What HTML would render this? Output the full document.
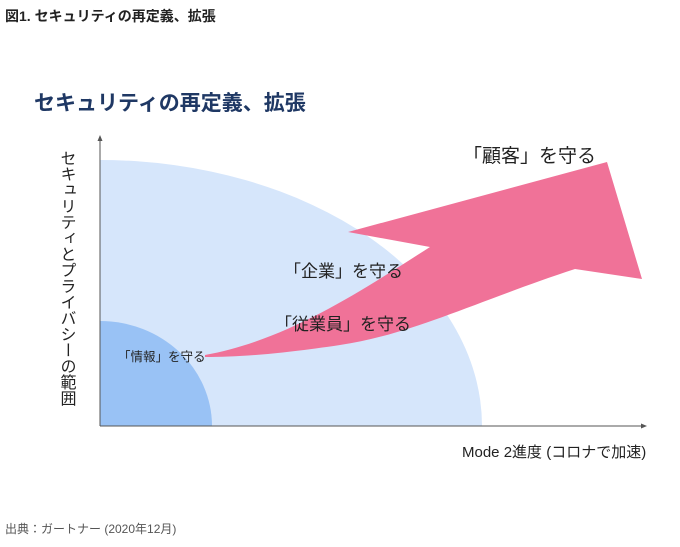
<!DOCTYPE html>
<html><head><meta charset="utf-8"><style>
body{margin:0;width:680px;height:542px;background:#fff;overflow:hidden;font-family:"Liberation Sans","Noto Sans CJK JP",sans-serif;}
</style></head><body>
<svg width="680" height="542" viewBox="0 0 680 542" xmlns="http://www.w3.org/2000/svg" style="font-family:'Liberation Sans','Noto Sans CJK JP',sans-serif">
<text x="5" y="21" font-size="14" font-weight="bold" fill="#222">図1. セキュリティの再定義、拡張</text>
<text x="34" y="110" font-size="21" font-weight="bold" fill="#1f3864">セキュリティの再定義、拡張</text>
<path d="M100,426 L100,160 A382,266 0 0 1 482,426 Z" fill="#d6e6fb"/>
<path d="M100,426 L100,321 A112,105 0 0 1 212,426 Z" fill="#99c2f5"/>
<path d="M205,355 C290,340 370,285 430,247 L348,232 L607,162 L642,279 L575,269 C480,300 410,335 340,345 C280,354 240,357 205,357 Z" fill="#f07298"/>
<line x1="100" y1="426" x2="100" y2="138" stroke="#555" stroke-width="1"/>
<path d="M97.5,141 L100,135 L102.5,141 Z" fill="#555"/>
<line x1="100" y1="426" x2="644" y2="426" stroke="#555" stroke-width="1"/>
<path d="M641,423.5 L647,426 L641,428.5 Z" fill="#555"/>
<text font-size="16" fill="#222" style="writing-mode:vertical-rl;text-orientation:upright" x="66" y="150">セキュリティとプライバシーの範囲</text>
<text x="463" y="162" font-size="19" fill="#222">「顧客」を守る</text>
<text x="284" y="277" font-size="17" fill="#222">「企業」を守る</text>
<text x="275" y="330" font-size="17" fill="#222">「従業員」を守る</text>
<text x="118" y="361" font-size="12.5" fill="#222">「情報」を守る</text>
<text x="462" y="457" font-size="15" fill="#222">Mode 2進度 (コロナで加速)</text>
<text x="5" y="533" font-size="12" fill="#555">出典：ガートナー (2020年12月)</text>
</svg>
</body></html>
